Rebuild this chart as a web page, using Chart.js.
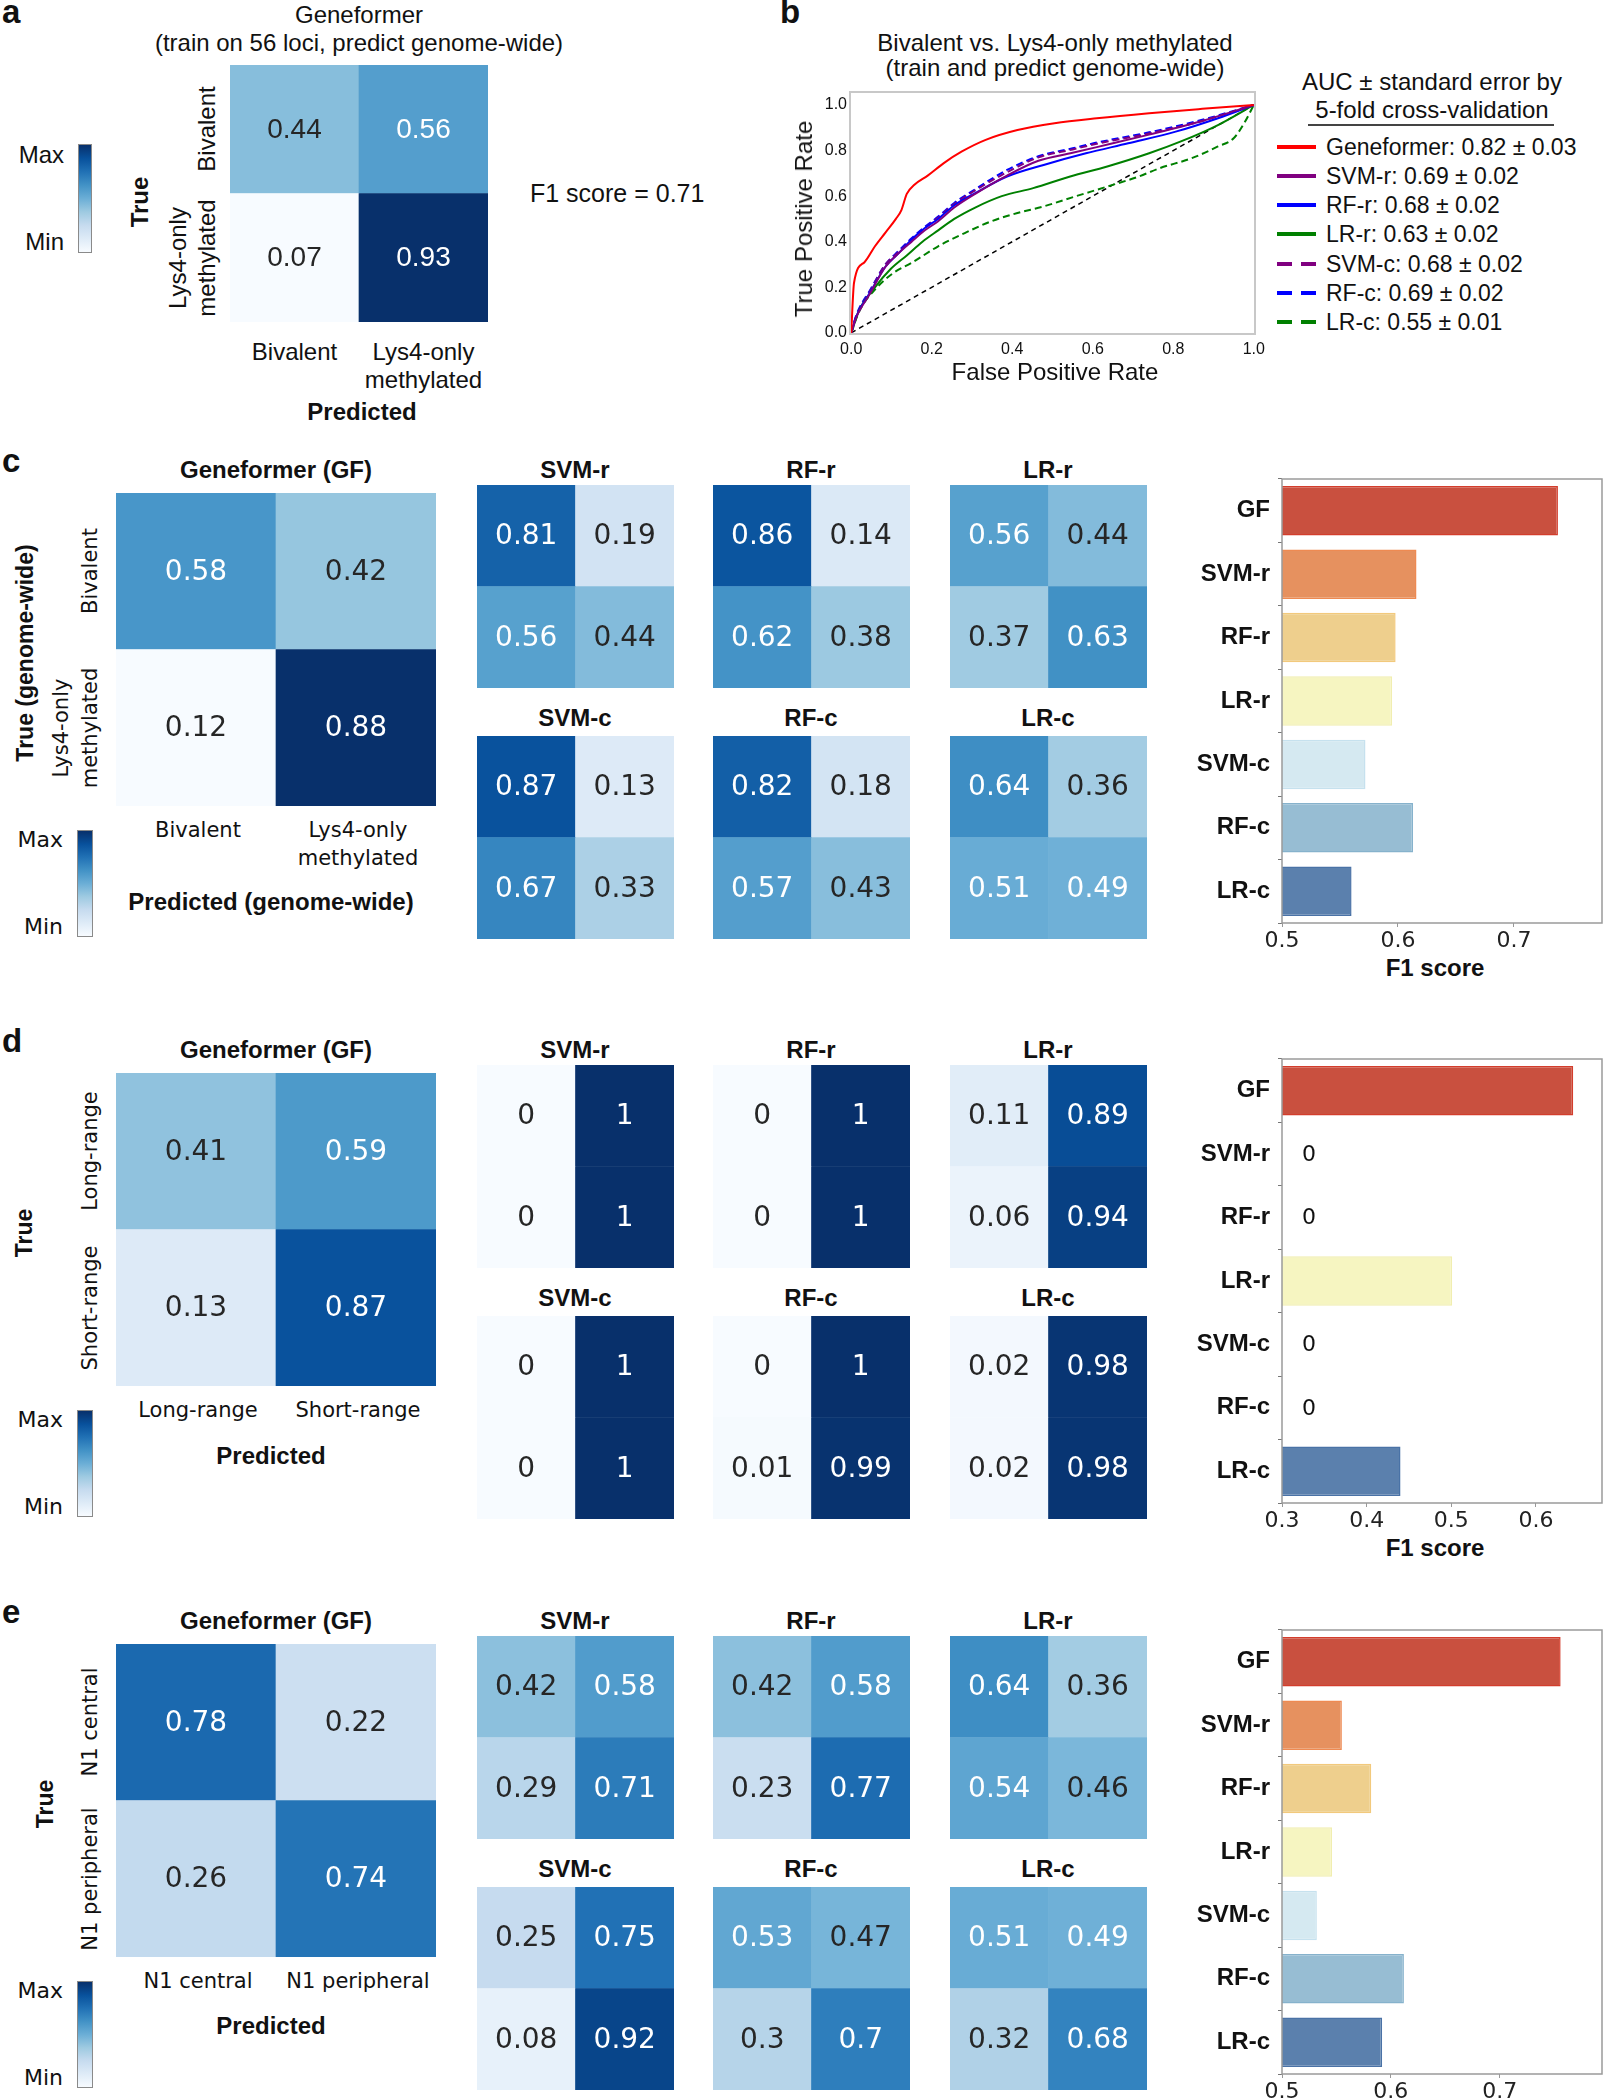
<!DOCTYPE html>
<html>
<head>
<meta charset="utf-8">
<script src="https://cdn.jsdelivr.net/npm/chart.js@4.4.1/dist/chart.umd.min.js"></script>
<style>
  body { margin: 0; background: #fff; }
  #page { position: relative; width: 1605px; height: 2100px; overflow: hidden; background: #fff; }
  #page canvas { position: absolute; }
  .t { position: absolute; white-space: nowrap; line-height: 1; color: #111; }
  .cbar { position: absolute; border: 1px solid #8a8a8a; box-sizing: border-box; }
</style>
</head>
<body>
<div id="page"></div>
<script>
// ---- data ----

// a: Geneformer, train on 56 loci
const aClasses = ['Bivalent', 'Lys4-only\nmethylated'];
const aMatrix = [[0.44, 0.56], [0.07, 0.93]];
const aF1 = 0.71;

// b: ROC curves, bivalent vs Lys4-only (genome-wide)
const rocModels = ['Geneformer', 'SVM-r', 'RF-r', 'LR-r', 'SVM-c', 'RF-c', 'LR-c'];
const rocAuc = [0.82, 0.69, 0.68, 0.63, 0.68, 0.69, 0.55];
const rocErr = [0.03, 0.02, 0.02, 0.02, 0.02, 0.02, 0.01];
const rocTicks = [0, 0.2, 0.4, 0.6, 0.8, 1.0];

const gfFpr = [0, 0.007, 0.033, 0.059, 0.085, 0.111, 0.125, 0.138, 0.157, 0.19, 0.23, 0.275, 0.334, 0.413, 0.505, 0.61, 0.74, 0.872, 1];
const gfTpr = [0, 0.22, 0.31, 0.38, 0.44, 0.50, 0.54, 0.61, 0.65, 0.69, 0.745, 0.796, 0.847, 0.89, 0.92, 0.942, 0.964, 0.983, 1];
const svmrFpr = [0, 0.013, 0.046, 0.085, 0.118, 0.15, 0.183, 0.216, 0.256, 0.308, 0.387, 0.465, 0.55, 0.61, 0.74, 0.872, 1];
const svmrTpr = [0, 0.07, 0.17, 0.29, 0.35, 0.40, 0.45, 0.49, 0.55, 0.61, 0.69, 0.755, 0.79, 0.815, 0.87, 0.93, 1];
const rfrFpr = [0, 0.013, 0.046, 0.085, 0.118, 0.15, 0.183, 0.216, 0.256, 0.308, 0.387, 0.478, 0.583, 0.688, 0.806, 0.911, 1];
const rfrTpr = [0, 0.073, 0.175, 0.29, 0.35, 0.41, 0.46, 0.50, 0.56, 0.613, 0.686, 0.737, 0.788, 0.832, 0.883, 0.942, 1];
const lrrFpr = [0, 0.02, 0.059, 0.098, 0.138, 0.177, 0.216, 0.256, 0.308, 0.374, 0.452, 0.544, 0.636, 0.74, 0.819, 0.911, 1];
const lrrTpr = [0, 0.10, 0.20, 0.28, 0.34, 0.40, 0.45, 0.50, 0.55, 0.60, 0.635, 0.686, 0.73, 0.788, 0.84, 0.912, 1];
const svmcFpr = [0, 0.013, 0.046, 0.085, 0.118, 0.15, 0.183, 0.216, 0.256, 0.308, 0.387, 0.465, 0.55, 0.61, 0.74, 0.872, 1];
const svmcTpr = [0, 0.075, 0.18, 0.30, 0.355, 0.41, 0.46, 0.505, 0.565, 0.625, 0.705, 0.77, 0.805, 0.83, 0.875, 0.93, 1];
const rfcFpr = [0, 0.013, 0.046, 0.085, 0.118, 0.15, 0.183, 0.216, 0.256, 0.308, 0.387, 0.465, 0.55, 0.61, 0.74, 0.872, 1];
const rfcTpr = [0, 0.08, 0.185, 0.30, 0.36, 0.415, 0.465, 0.51, 0.57, 0.63, 0.715, 0.775, 0.81, 0.835, 0.88, 0.935, 1];
const lrcFpr = [0, 0.02, 0.059, 0.105, 0.15, 0.216, 0.282, 0.347, 0.413, 0.478, 0.557, 0.636, 0.714, 0.767, 0.845, 0.911, 0.95, 0.976, 1];
const lrcTpr = [0, 0.095, 0.19, 0.263, 0.307, 0.38, 0.438, 0.489, 0.526, 0.555, 0.599, 0.642, 0.686, 0.723, 0.766, 0.818, 0.854, 0.92, 1];
const chanceFpr = [0, 1];
const chanceTpr = [0, 1];

// c-e: model names shared by the small matrices and the F1 bars
const models = ['SVM-r', 'RF-r', 'LR-r', 'SVM-c', 'RF-c', 'LR-c'];
const f1Labels = ['GF', 'SVM-r', 'RF-r', 'LR-r', 'SVM-c', 'RF-c', 'LR-c'];

// c: bivalent vs Lys4-only, genome-wide
const cClasses = ['Bivalent', 'Lys4-only\nmethylated'];
const cGF = [[0.58, 0.42], [0.12, 0.88]];
const cMats = [
  [[0.81, 0.19], [0.56, 0.44]],
  [[0.86, 0.14], [0.62, 0.38]],
  [[0.56, 0.44], [0.37, 0.63]],
  [[0.87, 0.13], [0.67, 0.33]],
  [[0.82, 0.18], [0.57, 0.43]],
  [[0.64, 0.36], [0.51, 0.49]]
];
const cF1 = [0.738, 0.616, 0.598, 0.595, 0.572, 0.613, 0.560];
const cF1Ticks = [0.5, 0.6, 0.7];

// d: long-range vs short-range
const dClasses = ['Long-range', 'Short-range'];
const dGF = [[0.41, 0.59], [0.13, 0.87]];
const dMats = [
  [[0, 1], [0, 1]],
  [[0, 1], [0, 1]],
  [[0.11, 0.89], [0.06, 0.94]],
  [[0, 1], [0, 1]],
  [[0, 1], [0.01, 0.99]],
  [[0.02, 0.98], [0.02, 0.98]]
];
const dF1 = [0.644, 0, 0, 0.501, 0, 0, 0.44];
const dF1Ticks = [0.3, 0.4, 0.5, 0.6];

// e: N1 central vs N1 peripheral
const eClasses = ['N1 central', 'N1 peripheral'];
const eGF = [[0.78, 0.22], [0.26, 0.74]];
const eMats = [
  [[0.42, 0.58], [0.29, 0.71]],
  [[0.42, 0.58], [0.23, 0.77]],
  [[0.64, 0.36], [0.54, 0.46]],
  [[0.25, 0.75], [0.08, 0.92]],
  [[0.53, 0.47], [0.3, 0.7]],
  [[0.51, 0.49], [0.32, 0.68]]
];
const eF1 = [0.756, 0.555, 0.582, 0.546, 0.532, 0.612, 0.592];
const eF1Ticks = [0.5, 0.6, 0.7];

// ---- styles ----
const ARIAL = '"Liberation Sans", Arial, Helvetica, sans-serif';
const DJ = '"DejaVu Sans", Verdana, sans-serif';
const bluesHex = ['#f7fbff', '#deebf7', '#c6dbef', '#9ecae1', '#6baed6', '#4292c6', '#2171b5', '#08519c', '#08306b'];
const barFill = ['#c9503f', '#e6915f', '#eecf8d', '#f6f5c1', '#d5e9f1', '#97bdd3', '#5b80ad'];
const barEdge = ['#d33d2c', '#ee8a52', '#f2c97c', '#f1eeb0', '#c6e1ee', '#86b2cc', '#4a72a6'];
const rocColors = ['#ff0000', '#800080', '#0000ff', '#008000', '#800080', '#0000ff', '#008000'];
const rocDashed = [false, false, false, false, true, true, true];

Chart.defaults.font.family = DJ;
Chart.defaults.color = '#111';

const page = document.getElementById('page');

function hexRgb(h) {
  return [1, 3, 5].map(i => parseInt(h.slice(i, i + 2), 16));
}
const bluesStops = bluesHex.map(hexRgb);

function blues(t) {
  t = Math.max(0, Math.min(1, t)) * 8;
  const i = Math.min(7, Math.floor(t));
  const f = t - i;
  const a = bluesStops[i], b = bluesStops[i + 1];
  return a.map((c, k) => Math.round(c + (b[k] - c) * f));
}

function lum(rgb) {
  const lin = rgb.map(c => {
    c /= 255;
    return c <= 0.03928 ? c / 12.92 : Math.pow((c + 0.055) / 1.055, 2.4);
  });
  return 0.2126 * lin[0] + 0.7152 * lin[1] + 0.0722 * lin[2];
}

function txt(s, x, y, o) {
  o = o || {};
  const d = document.createElement('div');
  d.className = 't';
  d.textContent = s;
  d.style.left = x + 'px';
  d.style.top = y + 'px';
  d.style.fontFamily = o.font || DJ;
  d.style.fontSize = (o.size || 20) + 'px';
  if (o.bold) d.style.fontWeight = 'bold';
  const ax = o.anchor === 'l' ? '0' : o.anchor === 'r' ? '-100%' : '-50%';
  d.style.transform = 'translate(' + ax + ', -50%)' + (o.rot ? ' rotate(' + o.rot + 'deg)' : '');
  page.appendChild(d);
  return d;
}

// bold headings are set in a Helvetica-like face
function head(s, x, y, size, rot) {
  return txt(s, x, y, { font: ARIAL, size: size || 24, bold: true, rot: rot });
}

function letter(s, x, baseline) {
  const d = document.createElement('div');
  d.className = 't';
  d.textContent = s;
  d.style.left = x + 'px';
  d.style.top = (baseline - 28) + 'px';
  d.style.fontFamily = ARIAL;
  d.style.fontSize = '33px';
  d.style.fontWeight = 'bold';
  page.appendChild(d);
}

function addCanvas(x, y, w, h) {
  const c = document.createElement('canvas');
  c.width = w;
  c.height = h;
  c.style.left = x + 'px';
  c.style.top = y + 'px';
  c.style.width = w + 'px';
  c.style.height = h + 'px';
  page.appendChild(c);
  return c;
}

function colorbar(x, y, w, h) {
  const d = document.createElement('div');
  d.className = 'cbar';
  d.style.left = x + 'px';
  d.style.top = y + 'px';
  d.style.width = w + 'px';
  d.style.height = h + 'px';
  d.style.background = 'linear-gradient(to top, ' + bluesHex.join(', ') + ')';
  page.appendChild(d);
}

// cell values written in the middle of every heatmap cell
const cellText = {
  id: 'cellText',
  afterDatasetsDraw(chart, args, opts) {
    const ctx = chart.ctx;
    ctx.save();
    ctx.font = opts.font;
    ctx.textAlign = 'center';
    ctx.textBaseline = 'middle';
    chart.data.datasets.forEach((ds, i) => {
      chart.getDatasetMeta(i).data.forEach((bar, j) => {
        ctx.fillStyle = ds.ink[j];
        ctx.fillText(String(ds.cells[j]), bar.x, (bar.y + bar.base) / 2 + 1);
      });
    });
    ctx.restore();
  }
};

// grey box round the plotting area
const frame = {
  id: 'frame',
  afterDraw(chart, args, opts) {
    const a = chart.chartArea;
    const ctx = chart.ctx;
    ctx.save();
    ctx.strokeStyle = opts.color;
    ctx.lineWidth = opts.width;
    ctx.strokeRect(a.left, a.top, a.right - a.left, a.bottom - a.top);
    ctx.restore();
  }
};

// "0" written next to the axis where an F1 score is zero
const zeroMark = {
  id: 'zeroMark',
  afterDatasetsDraw(chart) {
    const ctx = chart.ctx;
    const meta = chart.getDatasetMeta(0);
    ctx.save();
    ctx.font = '22px ' + DJ;
    ctx.fillStyle = '#111';
    ctx.textAlign = 'center';
    ctx.textBaseline = 'middle';
    chart.data.datasets[0].data.forEach((v, i) => {
      if (v === 0) ctx.fillText('0', chart.chartArea.left + 27, meta.data[i].y + 1);
    });
    ctx.restore();
  }
};

function noPad(s) {
  s.paddingTop = 0;
  s.paddingBottom = 0;
  s.paddingLeft = 0;
  s.paddingRight = 0;
}

// 2x2 confusion matrix as two stacked bar rows
function heatmap(x, y, w, h, matrix, minmax, font) {
  const cv = addCanvas(x, y, w, h);
  const flat = matrix.flat();
  const lo = minmax ? Math.min(...flat) : 0;
  const hi = minmax ? Math.max(...flat) : 1;
  const datasets = [1, 0].map(r => {
    const rgb = matrix[r].map(v => blues((v - lo) / (hi - lo)));
    return {
      data: [1, 1],
      cells: matrix[r],
      backgroundColor: rgb.map(c => 'rgb(' + c.join(',') + ')'),
      ink: rgb.map(c => lum(c) > 0.408 ? '#262626' : '#ffffff'),
      borderWidth: 0,
      barPercentage: 1,
      categoryPercentage: 1
    };
  });
  new Chart(cv, {
    type: 'bar',
    data: { labels: ['0', '1'], datasets: datasets },
    options: {
      responsive: false,
      animation: false,
      devicePixelRatio: 1,
      events: [],
      layout: { padding: 0 },
      plugins: { legend: { display: false }, tooltip: { enabled: false }, cellText: { font: font } },
      scales: {
        x: { display: false, stacked: true },
        y: { display: false, stacked: true, min: 0, max: 2 }
      }
    },
    plugins: [cellText]
  });
}

function f1Bars(dy, values, ticks, xmin, xmax) {
  const cv = addCanvas(1180, 470 + dy, 425, 480);
  new Chart(cv, {
    type: 'bar',
    data: {
      labels: f1Labels,
      datasets: [{
        data: values,
        backgroundColor: barFill,
        borderColor: barEdge,
        borderWidth: 1.5,
        barPercentage: 0.78,
        categoryPercentage: 1,
        clip: 0
      }]
    },
    options: {
      indexAxis: 'y',
      responsive: false,
      animation: false,
      devicePixelRatio: 1,
      events: [],
      layout: { padding: { top: 9, right: 3, left: 0, bottom: 0 } },
      plugins: { legend: { display: false }, tooltip: { enabled: false }, frame: { color: '#9a9a9a', width: 1.5 } },
      scales: {
        x: {
          type: 'linear', min: xmin, max: xmax,
          afterBuildTicks: s => { s.ticks = ticks.map(v => ({ value: v })); },
          afterFit: s => { s.height = 27; noPad(s); },
          grid: { display: true, drawOnChartArea: false, tickLength: 4, color: '#999' },
          border: { display: false },
          ticks: { font: { family: DJ, size: 22 }, color: '#222', padding: 1, callback: v => v.toFixed(1) }
        },
        y: {
          afterFit: s => { s.width = 102; noPad(s); },
          grid: { display: true, drawOnChartArea: false, tickLength: 4, color: '#777' },
          border: { display: false },
          ticks: { font: { family: ARIAL, size: 24, weight: 'bold' }, color: '#111', padding: 8 }
        }
      }
    },
    plugins: [frame, zeroMark]
  });
}

// ---- panel a ----
letter('a', 2, 23);
txt('Geneformer', 359, 15, { font: ARIAL, size: 24 });
txt('(train on 56 loci, predict genome-wide)', 359, 43, { font: ARIAL, size: 24 });
heatmap(230, 65, 258, 257, aMatrix, true, '28px ' + ARIAL);
colorbar(78, 144, 14, 109);
txt('Max', 64, 155, { font: ARIAL, size: 24, anchor: 'r' });
txt('Min', 64, 242, { font: ARIAL, size: 24, anchor: 'r' });
head('True', 140, 202, 24, -90);
aClasses.forEach((c, r) => {
  const lines = c.split('\n');
  lines.forEach((ln, k) => {
    txt(ln, 207 - (lines.length - 1 - k) * 29, 65 + 257 * (r + 0.5) / 2, { font: ARIAL, size: 24, rot: -90 });
    txt(ln, 230 + 258 * (r + 0.5) / 2, 352 + k * 28, { font: ARIAL, size: 24 });
  });
});
head('Predicted', 362, 412, 24);
txt('F1 score = ' + aF1.toFixed(2), 530, 193, { font: ARIAL, size: 25, anchor: 'l' });

// ---- panel b ----
letter('b', 780, 23);
txt('Bivalent vs. Lys4-only methylated', 1055, 43, { font: ARIAL, size: 24 });
txt('(train and predict genome-wide)', 1055, 68, { font: ARIAL, size: 24 });

const rocFpr = [gfFpr, svmrFpr, rfrFpr, lrrFpr, svmcFpr, rfcFpr, lrcFpr];
const rocTpr = [gfTpr, svmrTpr, rfrTpr, lrrTpr, svmcTpr, rfcTpr, lrcTpr];
const rocSets = rocModels.map((m, i) => ({
  label: m,
  data: rocFpr[i].map((x, k) => ({ x: x, y: rocTpr[i][k] })),
  borderColor: rocColors[i],
  borderWidth: 2,
  borderDash: rocDashed[i] ? [7, 4] : [],
  pointRadius: 0,
  fill: false,
  cubicInterpolationMode: 'monotone'
}));
rocSets.push({
  label: 'chance',
  data: chanceFpr.map((x, k) => ({ x: x, y: chanceTpr[k] })),
  borderColor: '#000',
  borderWidth: 1.5,
  borderDash: [5, 4],
  pointRadius: 0,
  fill: false
});

new Chart(addCanvas(780, 80, 490, 300), {
  type: 'line',
  data: { datasets: rocSets },
  options: {
    responsive: false,
    animation: false,
    devicePixelRatio: 1,
    events: [],
    layout: { padding: { top: 12, right: 15, left: 0, bottom: 0 } },
    plugins: { legend: { display: false }, tooltip: { enabled: false }, frame: { color: '#c8c8c8', width: 2 } },
    scales: {
      x: {
        type: 'linear', min: -0.003, max: 1.003,
        afterBuildTicks: s => { s.ticks = rocTicks.map(v => ({ value: v })); },
        afterFit: s => { s.height = 46; noPad(s); },
        grid: { display: false, drawTicks: false },
        border: { display: false },
        ticks: { font: { family: ARIAL, size: 16 }, color: '#111', padding: 6, maxRotation: 0, callback: v => v.toFixed(1) }
      },
      y: {
        type: 'linear', min: -0.005, max: 1.057,
        afterBuildTicks: s => { s.ticks = rocTicks.map(v => ({ value: v })); },
        afterFit: s => { s.width = 70; noPad(s); },
        grid: { display: false, drawTicks: false },
        border: { display: false },
        ticks: { font: { family: ARIAL, size: 16 }, color: '#111', padding: 3, callback: v => v.toFixed(1) }
      }
    }
  },
  plugins: [frame]
});
txt('False Positive Rate', 1055, 372, { font: ARIAL, size: 24 });
txt('True Positive Rate', 804, 219, { font: ARIAL, size: 24, rot: -90 });

// legend
txt('AUC \u00b1 standard error by', 1432, 82, { font: ARIAL, size: 24 });
txt('5-fold cross-validation', 1432, 110, { font: ARIAL, size: 24 });
const rule = document.createElement('div');
rule.style.cssText = 'position:absolute;left:1308px;top:124px;width:246px;height:2px;background:#444;';
page.appendChild(rule);
const legendY = [147, 176, 205, 234, 264, 293, 322];
rocModels.forEach((m, i) => {
  const sw = document.createElement('div');
  const col = rocColors[i];
  sw.style.cssText = 'position:absolute;left:1277px;width:39px;height:4px;top:' + (legendY[i] - 2) + 'px;background:' +
    (rocDashed[i] ? 'repeating-linear-gradient(to right,' + col + ' 0 15px, transparent 15px 24px)' : col) + ';';
  page.appendChild(sw);
  txt(m + ': ' + rocAuc[i].toFixed(2) + ' \u00b1 ' + rocErr[i].toFixed(2), 1326, legendY[i], { font: ARIAL, size: 23, anchor: 'l' });
});

// ---- panels c, d, e ----
const cols = [477, 713, 950];
const rowsTop = [485, 736];
const rowsTitle = [470, 718];

function buildPanel(p) {
  const dy = p.dy;
  letter(p.letter, 2, 472 + dy);
  head('Geneformer (GF)', 276, 470 + dy, 24);
  heatmap(116, 493 + dy, 320, 313, p.gf, p.minmax, '28px ' + DJ);
  p.classes.forEach((c, r) => {
    const lines = c.split('\n');
    lines.forEach((ln, k) => {
      txt(ln, 90 - (lines.length - 1 - k) * 29, 493 + dy + 313 * (r + 0.5) / 2, { size: 21, rot: -90 });
      txt(ln, 116 + 320 * (r + 0.5) / 2 + 2, 830 + dy + k * 28, { size: 21 });
    });
  });
  head(p.yTitle, p.yTitleX, 653 + dy, 23, -90);
  head(p.xTitle, 271, p.xTitleY + dy, 24);
  colorbar(77, 830 + dy, 16, 107);
  txt('Max', 63, 840 + dy, { size: 22, anchor: 'r' });
  txt('Min', 63, 927 + dy, { size: 22, anchor: 'r' });

  p.mats.forEach((m, i) => {
    const cx = cols[i % 3];
    const r = Math.floor(i / 3);
    head(models[i], cx + 98, rowsTitle[r] + dy, 24);
    heatmap(cx, rowsTop[r] + dy, 197, 203, m, false, '28px ' + DJ);
  });

  f1Bars(dy, p.f1, p.f1Ticks, p.f1Min, p.f1Max);
  if (p.f1Title) head('F1 score', 1435, 968 + dy, 24);
}

buildPanel({
  letter: 'c', dy: 0, classes: cClasses, gf: cGF, minmax: true, mats: cMats,
  yTitle: 'True (genome-wide)', yTitleX: 25, xTitle: 'Predicted (genome-wide)', xTitleY: 902,
  f1: cF1, f1Ticks: cF1Ticks, f1Min: 0.5, f1Max: 0.776, f1Title: true
});
buildPanel({
  letter: 'd', dy: 580, classes: dClasses, gf: dGF, minmax: false, mats: dMats,
  yTitle: 'True', yTitleX: 24, xTitle: 'Predicted', xTitleY: 876,
  f1: dF1, f1Ticks: dF1Ticks, f1Min: 0.3, f1Max: 0.678, f1Title: true
});
buildPanel({
  letter: 'e', dy: 1151, classes: eClasses, gf: eGF, minmax: false, mats: eMats,
  yTitle: 'True', yTitleX: 45, xTitle: 'Predicted', xTitleY: 875,
  f1: eF1, f1Ticks: eF1Ticks, f1Min: 0.5, f1Max: 0.794, f1Title: false
});
</script>
</body>
</html>
